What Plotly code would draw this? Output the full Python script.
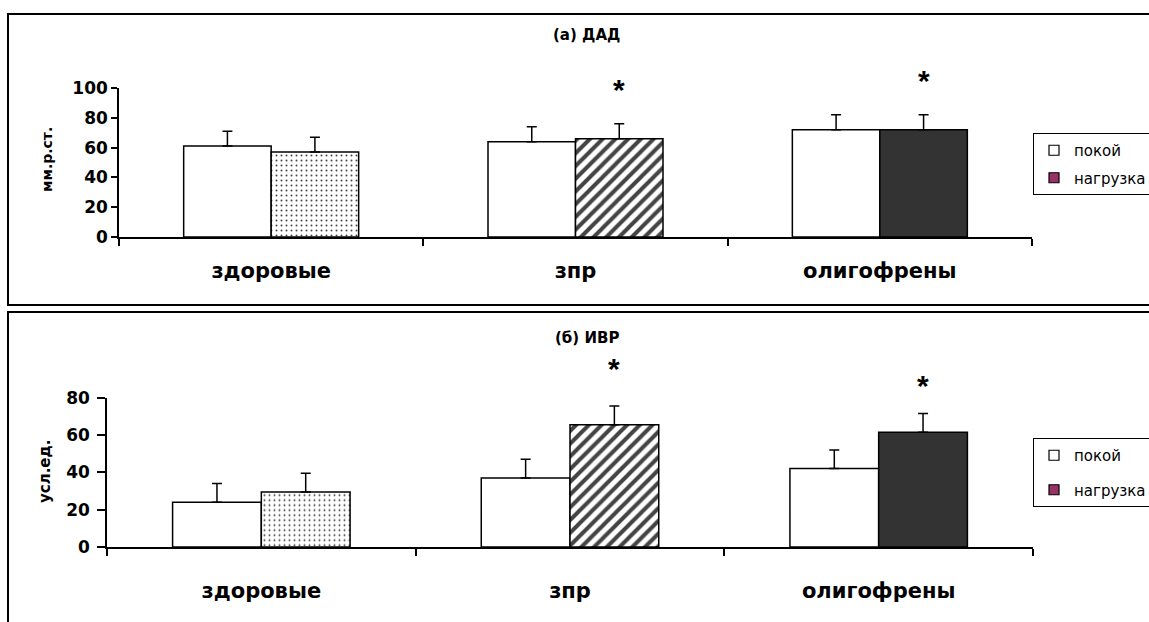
import plotly.graph_objects as go

# ---------------- data ----------------
categories = ["здоровые", "зпр", "олигофрены"]
series_names = ["покой", "нагрузка"]

dad_rest = [61, 64, 72]
dad_rest_err = [10, 10, 10]
dad_load = [57, 66, 72]
dad_load_err = [10, 10, 10]
dad_sig = [None, 101, 107]          # level of the significance asterisk

ivr_rest = [24, 37, 42]
ivr_rest_err = [10, 10, 10]
ivr_load = [29.5, 65.5, 61.5]
ivr_load_err = [10, 10, 10]
ivr_sig = [None, 97, 88]

dad_ticks = [0, 20, 40, 60, 80, 100]
ivr_ticks = [0, 20, 40, 60, 80]
dad_range = [0, 100]
ivr_range = [0, 80]

# ---------------- styling ----------------
W, H = 1149, 622
FONT = "DejaVu Sans"
BARGAP = 0.425
load_shapes = [".", "/", ""]
load_fg = ["#808080", "#000000", "#333333"]
load_bg = ["#ffffff", "#ffffff", "#333333"]
load_size = [5, 9, 8]
load_solid = [0.12, 0.45, 0.3]


def px(x):
    return x / W


def py(y):
    return 1 - y / H


fig = go.Figure()


def add_panel(rest, rest_err, load, load_err, xa, ya):
    fig.add_trace(go.Bar(
        x=categories, y=rest, name=series_names[0], xaxis=xa, yaxis=ya,
        showlegend=False, offsetgroup="a",
        marker=dict(color="white", line=dict(color="black", width=1.5)),
        error_y=dict(type="data", array=rest_err, arrayminus=[0] * len(rest),
                     symmetric=False, color="black", thickness=1.5, width=5),
    ))
    fig.add_trace(go.Bar(
        x=categories, y=load, name=series_names[1], xaxis=xa, yaxis=ya,
        showlegend=False, offsetgroup="b",
        marker=dict(color=load_bg, line=dict(color="black", width=1.5),
                    pattern=dict(shape=load_shapes, fgcolor=load_fg, bgcolor=load_bg,
                                 size=load_size, solidity=load_solid, fgopacity=1)),
        error_y=dict(type="data", array=load_err, arrayminus=[0] * len(load),
                     symmetric=False, color="black", thickness=1.5, width=5),
    ))


add_panel(dad_rest, dad_rest_err, dad_load, dad_load_err, "x", "y")
add_panel(ivr_rest, ivr_rest_err, ivr_load, ivr_load_err, "x2", "y2")

# legend entries (Excel legend keys)
for lg, xa, ya in [("legend", "x", "y"), ("legend2", "x2", "y2")]:
    fig.add_trace(go.Scatter(x=[None], y=[None], mode="markers", name=series_names[0],
                             legend=lg, legendgroup="g1", xaxis=xa, yaxis=ya,
                             marker=dict(symbol="square", size=10, color="white",
                                         line=dict(color="black", width=1.2))))
    fig.add_trace(go.Scatter(x=[None], y=[None], mode="markers", name=series_names[1],
                             legend=lg, legendgroup="g2", xaxis=xa, yaxis=ya,
                             marker=dict(symbol="square", size=10, color="#993366",
                                         line=dict(color="black", width=1.2))))

# asterisks (placed above the "нагрузка" bar of each group)
half = (1 - BARGAP) / 2
annotations = []
for sig, rng, xr, yr in [(dad_sig, dad_range, "x", "y domain"), (ivr_sig, ivr_range, "x2", "y2 domain")]:
    for i, s in enumerate(sig):
        if s is None:
            continue
        annotations.append(dict(x=i + half / 2, y=(s - rng[0]) / (rng[1] - rng[0]),
                                xref=xr, yref=yr, text="*", xanchor="center", yanchor="middle",
                                showarrow=False, yshift=-3,
                                font=dict(family="Liberation Sans", size=30, color="black", weight="bold")))

common_ann = dict(xref="paper", yref="paper", showarrow=False, xanchor="center", yanchor="middle")
annotations += [
    dict(x=px(586), y=py(35), text="(а) ДАД",
         font=dict(family=FONT, size=15, color="black", weight="bold"), **common_ann),
    dict(x=px(587), y=py(338), text="(б) ИВР",
         font=dict(family=FONT, size=15, color="black", weight="bold"), **common_ann),
    dict(x=px(47), y=py(160), text="мм.р.ст.", textangle=-90,
         font=dict(family=FONT, size=14, color="black", weight="bold"), **common_ann),
    dict(x=px(45), y=py(472), text="усл.ед.", textangle=-90,
         font=dict(family=FONT, size=15, color="black", weight="bold"), **common_ann),
]

shapes = [
    dict(type="rect", xref="paper", yref="paper", x0=px(8), x1=1.05, y0=py(305), y1=py(14),
         line=dict(color="black", width=2), fillcolor="rgba(0,0,0,0)", layer="below"),
    dict(type="rect", xref="paper", yref="paper", x0=px(8), x1=1.05, y0=-0.05, y1=py(312),
         line=dict(color="black", width=2), fillcolor="rgba(0,0,0,0)", layer="below"),
]

xcommon = dict(type="category", showline=True, linecolor="black", linewidth=1.5,
               ticks="outside", tickson="boundaries", ticklen=7, tickwidth=1.5, tickcolor="black",
               showgrid=False, zeroline=False,
               tickfont=dict(family=FONT, size=21, color="black", weight="bold"))
ycommon = dict(showline=True, linecolor="black", linewidth=1.5, ticks="outside",
               tickwidth=1.5, tickcolor="black", showgrid=False, zeroline=False,
               tickfont=dict(family=FONT, size=17, color="black", weight="bold"))

fig.update_layout(
    width=W, height=H,
    margin=dict(l=0, r=0, t=0, b=0, autoexpand=False),
    paper_bgcolor="white", plot_bgcolor="white",
    barmode="group", bargap=BARGAP, bargroupgap=0,
    xaxis=dict(domain=[px(119), px(1032)], anchor="y", ticklabelstandoff=14, **xcommon),
    yaxis=dict(domain=[py(237), py(88)], anchor="x", range=dad_range, tickvals=dad_ticks,
               ticklen=6, **ycommon),
    xaxis2=dict(domain=[px(107), px(1033)], anchor="y2", ticklabelstandoff=24, **xcommon),
    yaxis2=dict(domain=[py(547), py(397.7)], anchor="x2", range=ivr_range, tickvals=ivr_ticks,
                ticklen=8, ticklabelstandoff=4, **ycommon),
    legend=dict(x=px(1033), y=py(133), xanchor="left", yanchor="top",
                bordercolor="black", borderwidth=1, bgcolor="white",
                traceorder="grouped", tracegroupgap=5,
                font=dict(family=FONT, size=15, color="black")),
    legend2=dict(x=px(1033), y=py(438), xanchor="left", yanchor="top",
                 bordercolor="black", borderwidth=1, bgcolor="white",
                 traceorder="grouped", tracegroupgap=12,
                 font=dict(family=FONT, size=15, color="black")),
    annotations=annotations,
    shapes=shapes,
)

fig.write_html("out.html")
